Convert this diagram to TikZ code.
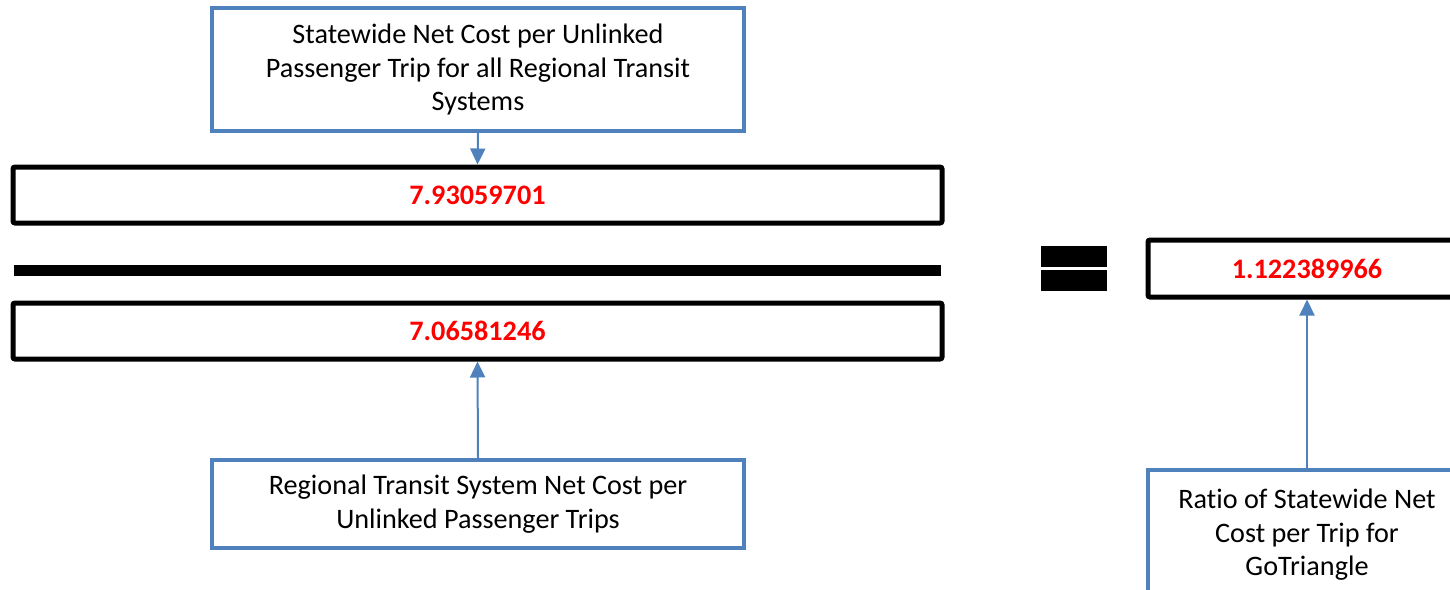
\documentclass[tikz,border=0pt]{standalone}
\usepackage{fontspec}
\setmainfont[Ligatures=NoCommon]{Carlito}
\usetikzlibrary{arrows.meta,positioning}

\definecolor{boxblue}{RGB}{79,129,189}

\begin{document}
\begin{tikzpicture}[x=0.5pt,y=-0.5pt,
    font=\fontsize{14.1}{16.75}\selectfont,
    bluebox/.style={draw=boxblue,line width=2pt,fill=white,align=center,inner sep=0pt},
    valbox/.style={draw=black,line width=2.5pt,rounded corners=1pt,fill=white,
        text=red,font=\fontsize{14.1}{16.75}\selectfont\bfseries,inner sep=0pt},
    feed/.style={draw=boxblue,line width=1pt,-{Triangle[width=7.5pt,length=8pt]}}]
    \useasboundingbox (0,0) rectangle (1450,589);
    \clip (0,0) rectangle (1450,589);

    % Numerator
    \node[bluebox,minimum width=266pt,minimum height=61.5pt] (statewide) at (478,69.5)
        {Statewide Net Cost per Unlinked\\Passenger Trip for all Regional Transit\\Systems};
    \node[valbox,minimum width=464.5pt,minimum height=28pt] (numer) at (477.5,195) {7.93059701};

    % Fraction bar
    \fill (14,265) rectangle (941,276);

    % Denominator
    \node[valbox,minimum width=464.5pt,minimum height=28pt] (denom) at (477.5,331) {7.06581246};
    \node[bluebox,minimum width=266pt,minimum height=44pt] (regional) at (478,504)
        {Regional Transit System Net Cost per\\Unlinked Passenger Trips};

    % Equals sign
    \fill (1041,246) rectangle (1107,267);
    \fill (1041,270) rectangle (1107,291);

    % Result
    \node[valbox,minimum width=159pt,minimum height=28.5pt] (ratio) at (1307,268.5) {1.122389966};
    \node[bluebox,minimum width=159pt,minimum height=65pt] (gotriangle) at (1307,535)
        {Ratio of Statewide Net\\Cost per Trip for\\GoTriangle};

    % Arrows
    \draw[feed] (statewide.south) -- (numer.north);
    \draw[feed] (regional.north) -- (denom.south);
    \draw[feed] (gotriangle.north) -- (ratio.south);
\end{tikzpicture}
\end{document}
